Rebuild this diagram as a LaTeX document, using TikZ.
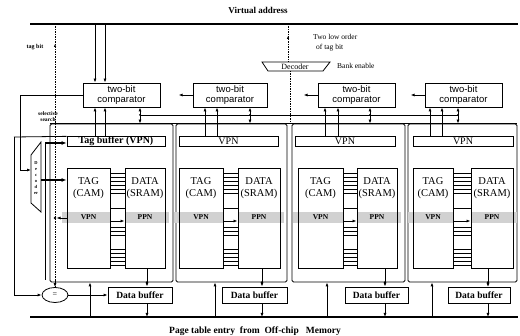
\documentclass[tikz,border=0pt]{standalone}
\usepackage{fontspec}
\setmainfont{Liberation Serif}
\setsansfont{Liberation Sans}
\usetikzlibrary{arrows.meta,shapes.geometric}
\begin{document}
\begin{tikzpicture}[x=1pt,y=-1pt,
  wire/.style={line width=0.8pt},
  arr/.style={wire,-{Latex[length=4pt,width=3pt]}},
  tharr/.style={line width=1.2pt,-{Latex[length=5pt,width=4pt]}},
  dbl/.style={wire,{Latex[length=4pt,width=3pt]}-{Latex[length=4pt,width=3pt]}},
  dwire/.style={wire,dash pattern=on 1.5pt off 1pt},
  bus/.style={line width=1.8pt},
  title/.style={font=\bfseries\fontsize{9}{9}\selectfont, inner sep=0pt},
  small/.style={font=\fontsize{7.5}{8.5}\selectfont, inner sep=0pt, align=left},
  tiny/.style={font=\bfseries\fontsize{5.5}{6.5}\selectfont, inner sep=0pt},
  cmpbox/.style={draw, line width=0.8pt, font=\sffamily\fontsize{9.5}{10}\selectfont,
    align=center, inner sep=0pt, minimum height=24pt},
  bufbox/.style={draw, line width=0.8pt, font=\fontsize{10}{10}\selectfont,
    inner sep=0pt, minimum height=9.5pt},
  dbbox/.style={draw, line width=0.8pt, font=\bfseries\fontsize{9.5}{10}\selectfont,
    inner sep=0pt, minimum height=16pt},
  membox/.style={draw, line width=0.9pt, inner sep=0pt, minimum height=100pt},
  memtext/.style={font=\fontsize{10.5}{12}\selectfont, align=center, inner sep=0pt},
  rowtext/.style={font=\bfseries\fontsize{7.5}{8}\selectfont, inner sep=0pt},
  band/.style={fill=black!18},
  frame/.style={draw, line width=0.8pt, rounded corners=1.5pt, inner sep=0pt, minimum height=158pt},
  dot/.style={circle, fill, inner sep=0pt, minimum size=2.6pt}]
\useasboundingbox (0,0) rectangle (520,336);

% ---------- virtual address bus ----------
\node[title] (va) at (258,10) {Virtual address};
\coordinate (vaL) at (30,24);
\coordinate (vaR) at (518,24);
\draw[bus] (vaL) -- (vaR);

% ---------- two-bit comparators ----------
\node[cmpbox, minimum width=77pt] (c1) at (121.5,95) {two-bit\\comparator};
\node[cmpbox, minimum width=74pt] (c2) at (230,95) {two-bit\\comparator};
\node[cmpbox, minimum width=77pt] (c3) at (356.5,95) {two-bit\\comparator};
\node[cmpbox, minimum width=77pt] (c4) at (463.5,95) {two-bit\\comparator};
\foreach \c in {c2,c3,c4}
  \draw[arr] (\c.west) -- ++(-14,0);

% tag bits from the address into the first comparator
\coordinate (a1) at (95,24);
\coordinate (a2) at (105,24);
\draw[arr] (a1) -- (a1 |- c1.north);
\draw[arr] (a2) -- (a2 |- c1.north);

% ---------- bank decoder ----------
\coordinate (dk1) at (262,62);
\coordinate (dk2) at (330,62);
\coordinate (dk3) at (323,71);
\coordinate (dk4) at (268,71);
\draw[line width=0.8pt] (dk1) -- (dk2) -- (dk3) -- (dk4) -- cycle;
\node[font=\fontsize{8}{8}\selectfont, inner sep=0pt] (dec) at (295,66.5) {Decoder};
\coordinate (decin) at (288,62);
\coordinate (decsrc) at (288,24);
\draw[dwire] (decsrc) -- (decin);
\draw[wire,-{Latex[length=3pt,width=2.5pt]}] (288,40) -- (288,36);
\coordinate (decout) at (290,71);
\node[small, anchor=west] (tlo) at (313,37) {Two low order};
\node[small, anchor=west] (otb) at (316,47.5) {of tag bit};
\node[small, anchor=west] (ben) at (337,65.5) {Bank enable};

% ---------- banks ----------
\node[frame, minimum width=123pt] (f1) at (111.5,203) {};
\node[frame, minimum width=111pt] (f2) at (231.5,203) {};
\node[frame, minimum width=113pt] (f3) at (348.5,203) {};
\node[frame, minimum width=109pt] (f4) at (462.5,203) {};
\draw[wire] (f1.north west) -- (f4.north east);
\draw[dwire] (decout) -- (decout |- f1.north);
\node[tiny, align=center] (sel) at (48,116.5) {selective\\[-1pt]search};

% comparator link bus and bidirectional taps
\coordinate (lk1) at (140,115);
\coordinate (lk2) at (250,115);
\coordinate (lk3) at (370,115);
\coordinate (lk4) at (458,115);
\draw[wire] (lk1) -- (lk4);
\foreach \k/\c in {1/c1,2/c2,3/c3,4/c4}{
  \draw[dbl] (lk\k |- \c.south) -- (lk\k |- f1.north);
  \node[dot, minimum size=2pt] (lkd\k) at (lk\k) {};
}

% tag buffers (VPN)
\node[bufbox, font=\bfseries\fontsize{10}{10}\selectfont, minimum width=98pt] (b1) at (116,141.5) {Tag buffer (VPN)};
\node[bufbox, minimum width=99pt] (b2) at (228.5,141.5) {VPN};
\node[bufbox, minimum width=100pt] (b3) at (345,141.5) {VPN};
\node[bufbox, minimum width=100pt] (b4) at (463,141.5) {VPN};

% VPN to comparators
\foreach \k/\xa/\xb in {1/95/105, 2/205/217, 3/325/338, 4/430/442}{
  \coordinate (ua\k) at (\xa,0);
  \coordinate (ub\k) at (\xb,0);
  \draw[arr] (ua\k |- b\k.north) -- (ua\k |- c\k.south);
  \draw[arr] (ub\k |- b\k.north) -- (ub\k |- c\k.south);
}

% TAG (CAM) / DATA (SRAM) arrays
\foreach \i/\tl/\tr/\dl/\dr in {1/67/110/125/165, 2/179/223/238/280, 3/298/343/357/397, 4/413/453/471/513}{
  \fill[band] (\tl-5,212) rectangle (\tr,223);
  \fill[band] (\dl,212) rectangle (\dr+4,223);
  \foreach \yy in {173,177,181,185,189,193,208,227,231,235,249,253,257,261,265}
    \draw[line width=0.6pt] (\tr,\yy) -- (\dl,\yy);
  \node[membox, minimum width=\tr-\tl] (tag\i) at ({(\tl+\tr)/2},218) {};
  \node[membox, minimum width=\dr-\dl] (data\i) at ({(\dl+\dr)/2},218) {};
  \node[memtext] (tagt\i) at ({(\tl+\tr)/2},188) {TAG\\(CAM)};
  \node[memtext] (datat\i) at ({(\dl+\dr)/2},188) {DATA\\(SRAM)};
  \node[rowtext] (vpnr\i) at ({(\tl+\tr)/2},217.5) {VPN};
  \node[rowtext] (ppnr\i) at ({(\dl+\dr)/2},217.5) {PPN};
  \coordinate (ta\i) at (\tr,221);
  \draw[arr] (ta\i) -- (ta\i -| data\i.west);
}

% data buffers
\node[dbbox, minimum width=64pt] (db1) at (140,295) {Data buffer};
\node[dbbox, minimum width=65pt] (db2) at (254.5,295) {Data buffer};
\node[dbbox, minimum width=63pt] (db3) at (376.5,295) {Data buffer};
\node[dbbox, minimum width=62pt] (db4) at (479,295.5) {Data buffer};

% ---------- page table entry bus ----------
\coordinate (pbL) at (30,317);
\coordinate (pbR) at (518,317);
\coordinate (pbM) at (432,317);
\draw[bus] (pbL) -- (pbR);
\draw[line width=2.4pt] (pbM) -- (pbR);
\node[title, font=\bfseries\fontsize{9.5}{9.5}\selectfont] (pte) at (255,331)
  {Page table entry\ \ from\ \ Off-chip\ \ \ Memory};

\foreach \i/\ux/\dx in {1/90/147, 2/215/262, 3/327/385, 4/432/488}{
  \coordinate (up\i) at (\ux,317);
  \draw[arr] (up\i) -- (up\i |- f\i.south);
  \coordinate (dd\i) at (\dx,0);
  \draw[arr] (dd\i |- data\i.south) -- (dd\i |- db\i.north);
  \node[dot] (ddot\i) at (dd\i |- f\i.south) {};
  \draw[arr] (dd\i |- db\i.south) -- (dd\i |- pbL);
}

% ---------- selective search logic (left side) ----------
\node[draw, ellipse, line width=0.8pt, minimum width=26pt, minimum height=15pt, inner sep=0pt,
  font=\fontsize{8}{8}\selectfont] (eq) at (55,295) {=};
\draw[arr] (eq.east) -- (eq.east -| db1.west);

% tag bit line
\coordinate (tb) at (55,24);
\node[small, font=\bfseries\fontsize{6}{7}\selectfont] (tbl) at (35,47) {tag bit};
\draw[dwire] (tb) -- (eq.north);
\coordinate (tbe) at (55,280);
\draw[arr] (tbe) -- (eq.north);
\draw[wire,-{Latex[length=3pt,width=2.5pt]}] (55,48) -- (55,44);

% vertical decoder
\coordinate (vd1) at (31,155);
\coordinate (vd2) at (41,142);
\coordinate (vd3) at (41,212);
\coordinate (vd4) at (31,203);
\draw[line width=0.8pt] (vd1) -- (vd2) -- (vd3) -- (vd4) -- cycle;
\node[font=\bfseries\fontsize{4.5}{6}\selectfont, align=center, inner sep=0pt] (vdt) at (36,178)
  {D\\e\\c\\o\\d\\er};
\coordinate (cl) at (20,170);
\coordinate (vdin) at (31,170);
\draw[wire] (c1.west) -| (cl);
\draw[arr] (cl) -- (vdin);

% decoder outputs
\coordinate (do1) at (41,180);
\draw[tharr] (do1) -- (do1 -| tag1.west);
\coordinate (do2) at (45,143);
\coordinate (do2b) at (45,280);
\draw[tharr] (do2) -- (do2 -| b1.west);
\draw[wire] (do2) -- (do2b);

% tag buffer to equality check
\coordinate (lb) at (14,137);
\draw[wire] (b1.north west) -- (lb);
\draw[arr] (lb) |- (eq.west);

% VPN row read-out to the tag bit line
\node[dot] (vsel) at (55,218) {};
\draw[arr] (vsel -| tag1.west) -- (vsel);
\end{tikzpicture}
\end{document}
